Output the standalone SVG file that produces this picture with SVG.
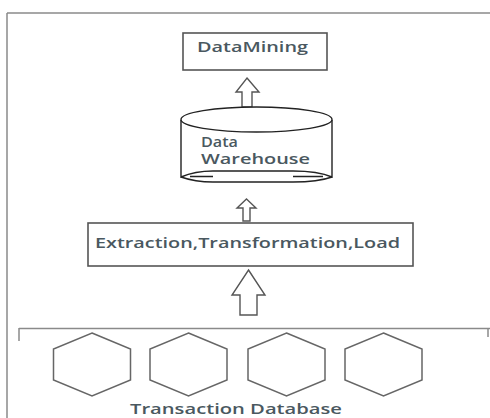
<svg xmlns="http://www.w3.org/2000/svg" width="490" height="418" viewBox="0 0 490 418">
<style>
.frame{stroke:#8a8a8a;stroke-width:1.5;fill:none}
.box{stroke:#555;stroke-width:1.6;fill:#fff}
.cyl{stroke:#222;stroke-width:1.4;fill:#fff}
.hex{stroke:#666;stroke-width:1.5;fill:#fff}
.arrow{stroke:#555;stroke-width:1.4;fill:#fff;stroke-linejoin:miter}
.lbl{font-family:"Open Sans","Liberation Sans",sans-serif;font-size:13.5px;font-weight:600;fill:#4a5860}
</style>
<rect width="490" height="418" fill="#fff"/>
<g id="frame">
<path class="frame" d="M7,13 H490 M7,13 V418"/>
<path class="frame" d="M19,328.5 H490 M19,328 V341 M488,328 V337"/>
</g>
<g id="connectors">
<polygon class="arrow" points="247,78 259,92 252,92 252,107 242,107 242,92 236,92"/>
<polygon class="arrow" points="246.5,199 256,208 250,208 250,221 243,221 243,208 237,208"/>
<polygon class="arrow" points="248.5,270 265,295 257,295 257,315 240,315 240,295 232,295"/>
</g>
<g id="datamining">
<rect class="box" x="183" y="33" width="144" height="37"/>
<text class="lbl" x="197" y="52" textLength="111" lengthAdjust="spacingAndGlyphs">DataMining</text>
</g>
<g id="warehouse">
<path class="cyl" d="M181,120 V177 Q195,171 213,171 L293,171 Q318,171 332,177 V120"/>
<ellipse class="cyl" cx="256.5" cy="119.5" rx="75.5" ry="12.5"/>
<path class="cyl" d="M181,177 Q195,182 213,182 L293,182 Q318,182 332,177"/>
<path class="cyl" d="M190,176.5 H213 M293,176.5 H323" fill="none"/>
<text class="lbl" x="201" y="147" textLength="37" lengthAdjust="spacingAndGlyphs">Data</text>
<text class="lbl" x="201" y="164" textLength="109" lengthAdjust="spacingAndGlyphs">Warehouse</text>
</g>
<g id="etl">
<rect class="box" x="88" y="223" width="325" height="43"/>
<text class="lbl" x="95" y="248" textLength="305" lengthAdjust="spacingAndGlyphs">Extraction,Transformation,Load</text>
</g>
<g id="transaction-db">
<polygon class="hex" points="92,333 130.5,349 130.5,380 92,396 53.5,380 53.5,349"/>
<polygon class="hex" points="188.5,333 227,349 227,380 188.5,396 150,380 150,349"/>
<polygon class="hex" points="286.5,333 325,349 325,380 286.5,396 248,380 248,349"/>
<polygon class="hex" points="383.5,333 422,349 422,380 383.5,396 345,380 345,349"/>
<text class="lbl" x="130" y="414" textLength="212" lengthAdjust="spacingAndGlyphs">Transaction Database</text>
</g>
</svg>
